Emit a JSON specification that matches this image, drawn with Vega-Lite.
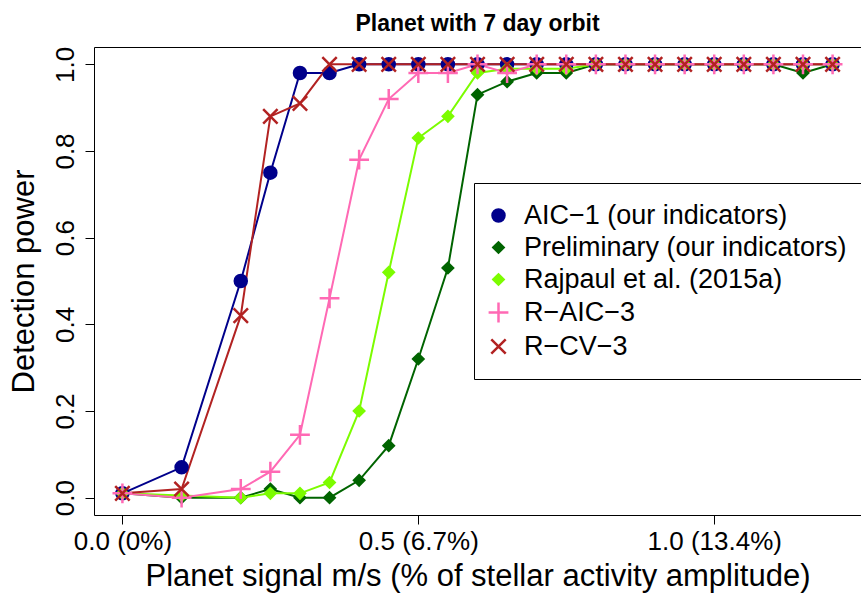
{
  "$schema": "https://vega.github.io/schema/vega-lite/v6.json",
  "width": 767,
  "height": 468,
  "autosize": {"type": "none"},
  "padding": {"left": 94, "top": 47, "right": 0, "bottom": 78},
  "background": "white",
  "config": {"font": "Liberation Sans", "view": {"stroke": "black", "strokeWidth": 1}},
  "title": {"text": "Planet with 7 day orbit", "fontSize": 23, "fontWeight": "bold", "anchor": "middle", "offset": 20, "dy": 28, "baseline": "alphabetic", "color": "black", "font": "Liberation Sans"},
  "data": {"values": [
    {"s": "AIC−1 (our indicators)", "x": 0, "y": 0.01},
    {"s": "AIC−1 (our indicators)", "x": 0.1, "y": 0.07},
    {"s": "AIC−1 (our indicators)", "x": 0.2, "y": 0.5},
    {"s": "AIC−1 (our indicators)", "x": 0.25, "y": 0.75},
    {"s": "AIC−1 (our indicators)", "x": 0.3, "y": 0.98},
    {"s": "AIC−1 (our indicators)", "x": 0.35, "y": 0.98},
    {"s": "AIC−1 (our indicators)", "x": 0.4, "y": 1},
    {"s": "AIC−1 (our indicators)", "x": 0.45, "y": 1},
    {"s": "AIC−1 (our indicators)", "x": 0.5, "y": 1},
    {"s": "AIC−1 (our indicators)", "x": 0.55, "y": 1},
    {"s": "AIC−1 (our indicators)", "x": 0.6, "y": 1},
    {"s": "AIC−1 (our indicators)", "x": 0.65, "y": 1},
    {"s": "AIC−1 (our indicators)", "x": 0.7, "y": 1},
    {"s": "AIC−1 (our indicators)", "x": 0.75, "y": 1},
    {"s": "AIC−1 (our indicators)", "x": 0.8, "y": 1},
    {"s": "AIC−1 (our indicators)", "x": 0.85, "y": 1},
    {"s": "AIC−1 (our indicators)", "x": 0.9, "y": 1},
    {"s": "AIC−1 (our indicators)", "x": 0.95, "y": 1},
    {"s": "AIC−1 (our indicators)", "x": 1.0, "y": 1},
    {"s": "AIC−1 (our indicators)", "x": 1.05, "y": 1},
    {"s": "AIC−1 (our indicators)", "x": 1.1, "y": 1},
    {"s": "AIC−1 (our indicators)", "x": 1.15, "y": 1},
    {"s": "AIC−1 (our indicators)", "x": 1.2, "y": 1},
    {"s": "Preliminary (our indicators)", "x": 0, "y": 0.01},
    {"s": "Preliminary (our indicators)", "x": 0.1, "y": 0},
    {"s": "Preliminary (our indicators)", "x": 0.2, "y": 0},
    {"s": "Preliminary (our indicators)", "x": 0.25, "y": 0.02},
    {"s": "Preliminary (our indicators)", "x": 0.3, "y": 0},
    {"s": "Preliminary (our indicators)", "x": 0.35, "y": 0},
    {"s": "Preliminary (our indicators)", "x": 0.4, "y": 0.04},
    {"s": "Preliminary (our indicators)", "x": 0.45, "y": 0.12},
    {"s": "Preliminary (our indicators)", "x": 0.5, "y": 0.32},
    {"s": "Preliminary (our indicators)", "x": 0.55, "y": 0.53},
    {"s": "Preliminary (our indicators)", "x": 0.6, "y": 0.93},
    {"s": "Preliminary (our indicators)", "x": 0.65, "y": 0.96},
    {"s": "Preliminary (our indicators)", "x": 0.7, "y": 0.98},
    {"s": "Preliminary (our indicators)", "x": 0.75, "y": 0.98},
    {"s": "Preliminary (our indicators)", "x": 0.8, "y": 1},
    {"s": "Preliminary (our indicators)", "x": 0.85, "y": 1},
    {"s": "Preliminary (our indicators)", "x": 0.9, "y": 1},
    {"s": "Preliminary (our indicators)", "x": 0.95, "y": 1},
    {"s": "Preliminary (our indicators)", "x": 1.0, "y": 1},
    {"s": "Preliminary (our indicators)", "x": 1.05, "y": 1},
    {"s": "Preliminary (our indicators)", "x": 1.1, "y": 1},
    {"s": "Preliminary (our indicators)", "x": 1.15, "y": 0.98},
    {"s": "Preliminary (our indicators)", "x": 1.2, "y": 1},
    {"s": "Rajpaul et al. (2015a)", "x": 0, "y": 0.01},
    {"s": "Rajpaul et al. (2015a)", "x": 0.1, "y": 0.005},
    {"s": "Rajpaul et al. (2015a)", "x": 0.2, "y": 0},
    {"s": "Rajpaul et al. (2015a)", "x": 0.25, "y": 0.01},
    {"s": "Rajpaul et al. (2015a)", "x": 0.3, "y": 0.01},
    {"s": "Rajpaul et al. (2015a)", "x": 0.35, "y": 0.035},
    {"s": "Rajpaul et al. (2015a)", "x": 0.4, "y": 0.2},
    {"s": "Rajpaul et al. (2015a)", "x": 0.45, "y": 0.52},
    {"s": "Rajpaul et al. (2015a)", "x": 0.5, "y": 0.83},
    {"s": "Rajpaul et al. (2015a)", "x": 0.55, "y": 0.88},
    {"s": "Rajpaul et al. (2015a)", "x": 0.6, "y": 0.98},
    {"s": "Rajpaul et al. (2015a)", "x": 0.65, "y": 0.99},
    {"s": "Rajpaul et al. (2015a)", "x": 0.7, "y": 0.99},
    {"s": "Rajpaul et al. (2015a)", "x": 0.75, "y": 0.99},
    {"s": "Rajpaul et al. (2015a)", "x": 0.8, "y": 1},
    {"s": "Rajpaul et al. (2015a)", "x": 0.85, "y": 1},
    {"s": "Rajpaul et al. (2015a)", "x": 0.9, "y": 1},
    {"s": "Rajpaul et al. (2015a)", "x": 0.95, "y": 1},
    {"s": "Rajpaul et al. (2015a)", "x": 1.0, "y": 1},
    {"s": "Rajpaul et al. (2015a)", "x": 1.05, "y": 1},
    {"s": "Rajpaul et al. (2015a)", "x": 1.1, "y": 1},
    {"s": "Rajpaul et al. (2015a)", "x": 1.15, "y": 1},
    {"s": "Rajpaul et al. (2015a)", "x": 1.2, "y": 1},
    {"s": "R−AIC−3", "x": 0, "y": 0.01},
    {"s": "R−AIC−3", "x": 0.1, "y": 0},
    {"s": "R−AIC−3", "x": 0.2, "y": 0.02},
    {"s": "R−AIC−3", "x": 0.25, "y": 0.06},
    {"s": "R−AIC−3", "x": 0.3, "y": 0.145},
    {"s": "R−AIC−3", "x": 0.35, "y": 0.46},
    {"s": "R−AIC−3", "x": 0.4, "y": 0.78},
    {"s": "R−AIC−3", "x": 0.45, "y": 0.92},
    {"s": "R−AIC−3", "x": 0.5, "y": 0.98},
    {"s": "R−AIC−3", "x": 0.55, "y": 0.98},
    {"s": "R−AIC−3", "x": 0.6, "y": 1},
    {"s": "R−AIC−3", "x": 0.65, "y": 0.98},
    {"s": "R−AIC−3", "x": 0.7, "y": 1},
    {"s": "R−AIC−3", "x": 0.75, "y": 1},
    {"s": "R−AIC−3", "x": 0.8, "y": 1},
    {"s": "R−AIC−3", "x": 0.85, "y": 1},
    {"s": "R−AIC−3", "x": 0.9, "y": 1},
    {"s": "R−AIC−3", "x": 0.95, "y": 1},
    {"s": "R−AIC−3", "x": 1.0, "y": 1},
    {"s": "R−AIC−3", "x": 1.05, "y": 1},
    {"s": "R−AIC−3", "x": 1.1, "y": 1},
    {"s": "R−AIC−3", "x": 1.15, "y": 1},
    {"s": "R−AIC−3", "x": 1.2, "y": 1},
    {"s": "R−CV−3", "x": 0, "y": 0.01},
    {"s": "R−CV−3", "x": 0.1, "y": 0.02},
    {"s": "R−CV−3", "x": 0.2, "y": 0.42},
    {"s": "R−CV−3", "x": 0.25, "y": 0.88},
    {"s": "R−CV−3", "x": 0.3, "y": 0.91},
    {"s": "R−CV−3", "x": 0.35, "y": 1},
    {"s": "R−CV−3", "x": 0.4, "y": 1},
    {"s": "R−CV−3", "x": 0.45, "y": 1},
    {"s": "R−CV−3", "x": 0.5, "y": 1},
    {"s": "R−CV−3", "x": 0.55, "y": 1},
    {"s": "R−CV−3", "x": 0.6, "y": 1},
    {"s": "R−CV−3", "x": 0.65, "y": 1},
    {"s": "R−CV−3", "x": 0.7, "y": 1},
    {"s": "R−CV−3", "x": 0.75, "y": 1},
    {"s": "R−CV−3", "x": 0.8, "y": 1},
    {"s": "R−CV−3", "x": 0.85, "y": 1},
    {"s": "R−CV−3", "x": 0.9, "y": 1},
    {"s": "R−CV−3", "x": 0.95, "y": 1},
    {"s": "R−CV−3", "x": 1.0, "y": 1},
    {"s": "R−CV−3", "x": 1.05, "y": 1},
    {"s": "R−CV−3", "x": 1.1, "y": 1},
    {"s": "R−CV−3", "x": 1.15, "y": 1},
    {"s": "R−CV−3", "x": 1.2, "y": 1}
  ]},
  "encoding": {
    "x": {"field": "x", "type": "quantitative", "scale": {"domain": [-0.048, 1.248], "nice": false, "zero": false},
      "axis": {"values": [0, 0.5, 1], "labelExpr": "datum.value == 0 ? '0.0 (0%)' : (datum.value == 0.5 ? '0.5 (6.7%)' : '1.0 (13.4%)')",
        "labelFontSize": 26, "labelColor": "black", "labelFlush": false, "labelOverlap": false, "labelPadding": 4.5, "labelBaseline": "top",
        "tickSize": 9, "tickColor": "black", "tickWidth": 1, "domain": false, "grid": false,
        "title": "Planet signal m/s (% of stellar activity amplitude)", "titleFontSize": 31, "titleFontWeight": "normal", "titleColor": "black",
        "titleY": 70, "titleBaseline": "alphabetic"}},
    "y": {"field": "y", "type": "quantitative", "scale": {"domain": [-0.04, 1.04], "nice": false, "zero": false},
      "axis": {"values": [0, 0.2, 0.4, 0.6, 0.8, 1], "format": ".1f", "labelAngle": -90, "labelAlign": "center", "labelBaseline": "alphabetic",
        "labelFontSize": 26, "labelColor": "black", "labelFlush": false, "labelOverlap": false, "labelPadding": 12,
        "tickSize": 9, "tickColor": "black", "tickWidth": 1, "domain": false, "grid": false,
        "title": "Detection power", "titleFontSize": 31, "titleFontWeight": "normal", "titleColor": "black",
        "titleAngle": -90, "titleX": -61, "titleY": 234, "titleAlign": "center", "titleBaseline": "alphabetic"}},
    "color": {"field": "s", "type": "nominal",
      "scale": {"domain": ["AIC−1 (our indicators)", "Preliminary (our indicators)", "Rajpaul et al. (2015a)", "R−AIC−3", "R−CV−3"],
        "range": ["#00008B", "#006400", "#7CFC00", "#FF69B4", "#B22222"]},
      "legend": {"orient": "none", "legendX": 380, "legendY": 136, "title": null, "strokeColor": "black", "fillColor": "white", "padding": 19,
        "labelFontSize": 27, "labelFont": "Liberation Sans", "labelColor": "black", "symbolSize": 144, "symbolStrokeWidth": 2.5,
        "rowPadding": 4, "labelOffset": 12, "symbolOffset": -8, "labelLimit": 0, "symbolOpacity": 1, "cornerRadius": 0}}
  },
  "layer": [
    {"mark": {"type": "line", "strokeWidth": 2}},
    {"mark": {"type": "point", "filled": true, "size": 144, "strokeWidth": 2.5, "opacity": 1},
      "encoding": {
        "stroke": {"field": "s", "type": "nominal",
          "scale": {"domain": ["AIC−1 (our indicators)", "Preliminary (our indicators)", "Rajpaul et al. (2015a)", "R−AIC−3", "R−CV−3"],
            "range": ["#00008B", "#006400", "#7CFC00", "#FF69B4", "#B22222"]},
          "legend": {"orient": "none", "legendX": 380, "legendY": 136, "title": null, "strokeColor": "black", "fillColor": "white", "padding": 19,
            "labelFontSize": 27, "labelFont": "Liberation Sans", "labelColor": "black", "symbolSize": 144, "symbolStrokeWidth": 2.5,
            "rowPadding": 4, "labelOffset": 12, "symbolOffset": -8, "labelLimit": 0, "symbolOpacity": 1, "cornerRadius": 0}},
        "shape": {"field": "s", "type": "nominal",
          "scale": {"domain": ["AIC−1 (our indicators)", "Preliminary (our indicators)", "Rajpaul et al. (2015a)", "R−AIC−3", "R−CV−3"],
            "range": ["circle", "M-0.85,0L0,-0.85L0.85,0L0,0.85Z", "M-0.85,0L0,-0.85L0.85,0L0,0.85Z", "M-1.65,0H1.65M0,-1.65V1.65", "M-1.2,-1.2L1.2,1.2M-1.2,1.2L1.2,-1.2"]},
          "legend": {"orient": "none", "legendX": 380, "legendY": 136, "title": null, "strokeColor": "black", "fillColor": "white", "padding": 19,
            "labelFontSize": 27, "labelFont": "Liberation Sans", "labelColor": "black", "symbolSize": 144, "symbolStrokeWidth": 2.5,
            "rowPadding": 4, "labelOffset": 12, "symbolOffset": -8, "labelLimit": 0, "symbolOpacity": 1, "cornerRadius": 0}}
      }}
  ]
}
